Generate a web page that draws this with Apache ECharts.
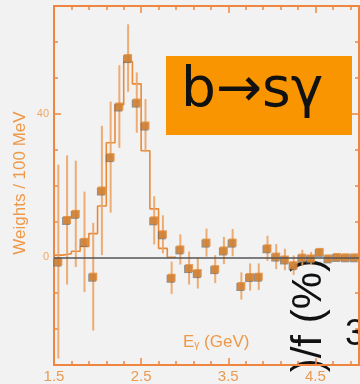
<!DOCTYPE html>
<html>
<head>
<meta charset="utf-8">
<script src="https://cdn.jsdelivr.net/npm/echarts@6/dist/echarts.min.js"></script>
<style>
  html, body { margin: 0; padding: 0; background: #f2f2f2; }
  #chart { width: 360px; height: 384px; }
</style>
</head>
<body>
<div id="chart"></div>
<script>
// Photon energy bin centres (GeV), 100 MeV bins
const binCenters = [1.55, 1.65, 1.75, 1.85, 1.95, 2.05, 2.15, 2.25, 2.35, 2.45,
  2.55, 2.65, 2.75, 2.85, 2.95, 3.05, 3.15, 3.25, 3.35, 3.45,
  3.55, 3.65, 3.75, 3.85, 3.95, 4.05, 4.15, 4.25, 4.35, 4.45,
  4.55, 4.65, 4.75, 4.85, 4.95];
// Measured weights per 100 MeV
const weights = [-1.2, 10.4, 12.1, 4.3, -5.4, 18.6, 27.9, 42.0, 55.5, 43.1,
  36.7, 10.3, 6.4, -5.7, 2.2, -3.0, -4.4, 4.1, -3.3, 1.9,
  4.1, -8.0, -5.5, -5.4, 2.5, 0.2, -0.6, -2.2, -0.1, -0.3,
  1.5, -0.3, 0.1, 0.0, 0.0];
// Symmetric uncertainties
const errors = [27, 18, 14.8, 14, 15, 18, 15.5, 11.5, 9.4, 8.4,
  7.4, 6.7, 5.3, 4.5, 4.2, 4.6, 4.3, 3.9, 3.9, 3.8,
  3.8, 3.8, 3.8, 3.7, 3.5, 3.5, 3.0, 2.7, 2.2, 1.8,
  1.0, 0.8, 0.6, 0.6, 0.6];
// Expected signal spectrum: bin low edges and contents
const histEdges = [1.5, 1.6, 1.7, 1.8, 1.9, 2.0, 2.1, 2.2, 2.3, 2.4, 2.5, 2.6, 2.7, 2.8, 2.9];
const histValues = [0.6, 1.0, 1.7, 3.0, 6.6, 14.3, 31.9, 42.5, 54.5, 48.3, 29.7, 13.5, 2.5, 0, 0];
// Axis ticks and labels
const xMajorTicks = [1.5, 2.5, 3.5, 4.5];
const xMinorTicks = [1.7, 1.9, 2.1, 2.3, 2.7, 2.9, 3.1, 3.3, 3.7, 3.9, 4.1, 4.3, 4.7, 4.9];
const yMajorTicks = [0, 40];
const yMinorTicks = [-30, -20, -10, 10, 20, 30, 50, 60, 70];

const AXIS = '#EE8640';
const LABEL = '#EA9A50';
const POINT = '#E2862C';
const BAR = '#ECA466';
const HIST = '#E98A38';

const chart = echarts.init(document.getElementById('chart'), null, { renderer: 'canvas' });

function xAx(pos, ticks, len, showLine, labels) {
  return {
    type: 'value', position: pos, min: 1.5, max: 5.0,
    axisLine: { show: showLine, onZero: false, lineStyle: { color: AXIS, width: 2 } },
    axisTick: { show: true, inside: true, length: len, customValues: ticks,
      lineStyle: { color: AXIS, width: 1.5 } },
    axisLabel: labels ? { show: true, customValues: labels, color: LABEL, fontSize: 15,
      fontFamily: 'Liberation Sans', margin: 4, formatter: v => v.toFixed(1) } : { show: false },
    splitLine: { show: false }
  };
}
function yAx(pos, ticks, len, showLine, labels) {
  return {
    type: 'value', position: pos, min: -30, max: 70,
    axisLine: { show: showLine, onZero: false, lineStyle: { color: AXIS, width: 2 } },
    axisTick: { show: true, inside: true, length: len, customValues: ticks,
      lineStyle: { color: AXIS, width: 1.5 } },
    axisLabel: labels ? { show: true, customValues: labels, color: '#F0A868', fontSize: 11,
      fontFamily: 'Liberation Sans', margin: 5 } : { show: false },
    splitLine: { show: false }
  };
}

const histData = histEdges.map((x, i) => [x, histValues[i]]);
const pointData = binCenters.map((x, i) => [x, weights[i], errors[i]]);

chart.setOption({
  backgroundColor: '#f2f2f2',
  animation: false,
  grid: { left: 54, right: 1, top: 6, bottom: 19 },
  xAxis: [
    xAx('bottom', xMajorTicks, 7, true, xMajorTicks),
    xAx('bottom', xMinorTicks, 4, false, null),
    xAx('top', xMajorTicks, 7, true, null),
    xAx('top', xMinorTicks, 4, false, null)
  ],
  yAxis: [
    yAx('left', yMajorTicks, 7, true, yMajorTicks),
    yAx('left', yMinorTicks, 4, false, null),
    yAx('right', yMajorTicks, 7, true, null),
    yAx('right', yMinorTicks, 4, false, null)
  ],
  graphic: [
    {
      type: 'text', x: 309, y: 258, rotation: Math.PI / 2, z: 0,
      style: { text: ')/f (%)', fontSize: 42, fontFamily: 'Liberation Sans',
        fill: '#111', align: 'right', verticalAlign: 'middle' }
    },
    {
      type: 'text', x: 345, y: 335, z: 0,
      style: { text: '3', fontSize: 36, fontFamily: 'Liberation Sans',
        fill: '#111', align: 'left', verticalAlign: 'middle' }
    },
    {
      type: 'text', x: 20, y: 183, rotation: Math.PI / 2, z: 5,
      style: { text: 'Weights / 100 MeV', fontSize: 17, fontFamily: 'Liberation Sans',
        fill: '#EE9848', align: 'center', verticalAlign: 'middle' }
    },
    {
      type: 'text', x: 183, y: 342, z: 5,
      style: {
        text: '{a|E}{b|γ}{a| (GeV)}', verticalAlign: 'middle',
        rich: {
          a: { fontSize: 17, fontFamily: 'Liberation Sans', fill: '#EE9848' },
          b: { fontSize: 10, fontFamily: 'Liberation Sans', fill: '#EE9848',
            verticalAlign: 'bottom', padding: [6, 0, 0, 0] }
        }
      }
    },
    {
      type: 'rect', shape: { x: 166, y: 56, width: 186, height: 79 }, z: 10,
      style: { fill: '#F99500' }
    },
    {
      type: 'text', x: 181, y: 92, z: 11,
      style: { text: 'b→sγ', fontSize: 55, fontFamily: 'DejaVu Sans',
        fill: '#111', align: 'left', verticalAlign: 'middle' }
    }
  ],
  series: [
    {
      type: 'line', data: histData, step: 'end', symbol: 'none', z: 2,
      lineStyle: { color: HIST, width: 1.6 },
      markLine: {
        silent: true, symbol: 'none', label: { show: false },
        lineStyle: { color: '#555', width: 1.5, type: 'solid' },
        data: [{ yAxis: 0 }]
      }
    },
    {
      type: 'custom', data: pointData, z: 3,
      encode: { x: 0, y: 1 },
      renderItem: function (params, api) {
        const x = api.value(0), y = api.value(1), e = api.value(2);
        const top = api.coord([x, y + e]);
        const bot = api.coord([x, y - e]);
        return {
          type: 'line',
          shape: { x1: top[0], y1: top[1], x2: bot[0], y2: bot[1] },
          style: { stroke: BAR, lineWidth: 2, opacity: 0.9 }
        };
      }
    },
    {
      type: 'scatter', data: pointData, symbol: 'rect', symbolSize: 8, z: 4,
      itemStyle: { color: POINT, shadowColor: 'rgba(100,100,100,0.85)',
        shadowBlur: 0, shadowOffsetX: -1, shadowOffsetY: 1 }
    }
  ]
});
</script>
</body>
</html>
